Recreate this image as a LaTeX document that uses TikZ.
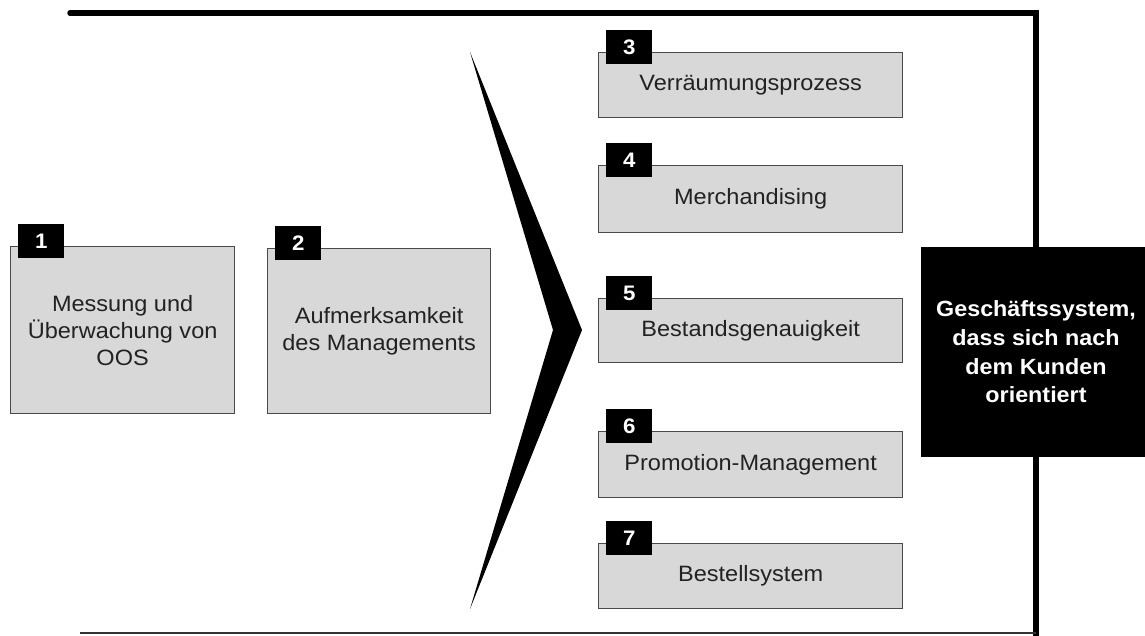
\documentclass[tikz,border=0pt]{standalone}
\usepackage{fontspec}
\setmainfont{Liberation Sans}[FakeStretch=1.06]
\definecolor{boxfill}{HTML}{D8D8D8}
\definecolor{boxline}{HTML}{4A4A4A}
\definecolor{txt}{HTML}{222222}
\begin{document}
\begin{tikzpicture}[x=1pt,y=-1pt,
  stepbox/.style={draw=boxline, line width=1.3pt, fill=boxfill, text=txt,
    align=center, inner sep=0pt, anchor=north west,
    font=\fontsize{22.2}{27}\selectfont},
  badge/.style={fill=black, text=white, inner sep=0pt, anchor=north west,
    minimum width=46pt, minimum height=34pt,
    font=\bfseries\fontsize{21}{21}\selectfont},
  goalbox/.style={fill=black, text=white, align=center, inner sep=0pt,
    minimum width=230pt, minimum height=210pt,
    font=\bfseries\fontsize{22}{28.7}\selectfont},
  frame/.style={draw=black, line width=5.5pt},
  baseline rule/.style={draw=black!80, line width=1.8pt}]

\useasboundingbox (0,0) rectangle (1145,635);
\clip (0,0) rectangle (1145,635);

% left-hand prerequisites
\node[stepbox, minimum width=224pt, minimum height=167pt] (b1) at (10,246)
  {Messung und\\Überwachung von\\OOS};
\node[stepbox, minimum width=223pt, minimum height=165pt] (b2) at (267,248)
  {Aufmerksamkeit\\des Managements};

% levers on the right
\node[stepbox, minimum width=304pt, minimum height=65pt] (b3) at (598,52) {Verräumungsprozess};
\node[stepbox, minimum width=304pt, minimum height=67pt] (b4) at (598,165) {Merchandising};
\node[stepbox, minimum width=304pt, minimum height=64pt] (b5) at (598,298) {Bestandsgenauigkeit};
\node[stepbox, minimum width=304pt, minimum height=66pt] (b6) at (598,431) {Promotion-Management};
\node[stepbox, minimum width=304pt, minimum height=65pt] (b7) at (598,543) {Bestellsystem};

% number tags
\foreach \i in {1,...,7}
  \node[badge] (n\i) at ([shift={(8,-22)}]b\i.north west) {\i};

% chevron separating the two groups
\fill[black] (470,52) -- (582,330) -- (470,609) -- (553,330) -- cycle;

% goal
\node[goalbox] (goal) at (1036,352)
  {Geschäftssystem,\\dass sich nach\\dem Kunden\\orientiert};

% surrounding frame
\coordinate (ftop) at (70,13);
\coordinate (fbot) at (80,633);
\coordinate (fend) at (1036,640);
\draw[frame, line cap=round, line join=miter] (ftop) -| (goal.north);
\draw[frame] (goal.south) -- (goal.south |- fend);
\draw[baseline rule] (fbot) -- (fbot -| goal.south);
\end{tikzpicture}
\end{document}
